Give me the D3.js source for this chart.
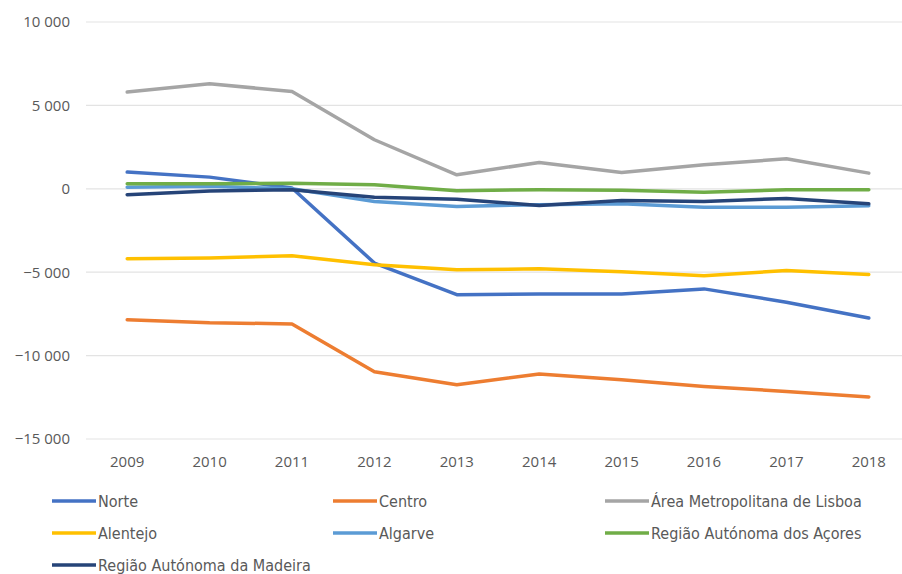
<!DOCTYPE html>
<html><head><meta charset="utf-8">
<script src="https://cdn.jsdelivr.net/npm/d3@7"></script>
<style>body{margin:0;background:#fff}svg{display:block}</style>
</head><body><svg id="c" width="902" height="574"></svg>
<script>
const years = ["2009","2010","2011","2012","2013","2014","2015","2016","2017","2018"];
const yTicks = [-15000,-10000,-5000,0,5000,10000];
const norte    = [1000, 700, 50, -4450, -6350, -6300, -6300, -6000, -6800, -7750];
const centro   = [-7850, -8030, -8100, -10970, -11750, -11100, -11450, -11850, -12150, -12480];
const lisboa   = [5800, 6300, 5830, 2940, 840, 1580, 980, 1440, 1800, 940];
const alentejo = [-4200, -4150, -4020, -4550, -4850, -4800, -4980, -5220, -4900, -5140];
const algarve  = [100, 150, 0, -760, -1060, -950, -900, -1100, -1100, -1020];
const acores   = [300, 300, 340, 250, -120, -50, -80, -200, -60, -60];
const madeira  = [-350, -130, -50, -500, -620, -1000, -700, -760, -580, -900];
const seriesNames = ["Norte","Centro","Área Metropolitana de Lisboa","Alentejo","Algarve","Região Autónoma dos Açores","Região Autónoma da Madeira"];
const seriesValues = [norte, centro, lisboa, alentejo, algarve, acores, madeira];
const colors = ["#4472C4","#ED7D31","#A5A5A5","#FFC000","#5B9BD5","#70AD47","#264478"];

const svg = d3.select("#c");
const x = d3.scaleBand().domain(years).range([86, 910]);
const y = d3.scaleLinear().domain([-15000, 10000]).range([439, 22]);
const fmt = v => d3.format(",")(v).replace(/,/g, " ");

// grid
svg.append("g").selectAll("line").data(yTicks).join("line")
  .attr("x1", 86).attr("x2", 910)
  .attr("y1", d => y(d)).attr("y2", d => y(d))
  .attr("stroke", "#e3e3e3").attr("stroke-width", 1.2);

// y axis
const ya = svg.append("g").attr("transform", "translate(70,0)")
  .call(d3.axisLeft(y).tickValues(yTicks).tickSize(0).tickPadding(0).tickFormat(fmt));
ya.select(".domain").remove();
ya.selectAll("text").attr("fill", "#595959").attr("font-family", "Open Sans, sans-serif").attr("font-size", 15);

// x axis
const xa = svg.append("g").attr("transform", "translate(0,452)")
  .call(d3.axisBottom(x).tickSize(0).tickPadding(4));
xa.select(".domain").remove();
xa.selectAll("text").attr("fill", "#595959").attr("font-family", "Open Sans, sans-serif").attr("font-size", 15);

const line = d3.line().x((d, i) => x(years[i]) + x.bandwidth() / 2).y(d => y(d));
svg.append("g").selectAll("path").data(seriesValues).join("path")
  .attr("d", d => line(d)).attr("fill", "none")
  .attr("stroke", (d, i) => colors[i]).attr("stroke-width", 3.5)
  .attr("stroke-linejoin", "round").attr("stroke-linecap", "round");

// legend
const colX = [52, 333, 605];
const rowY = [501, 533, 565];
const lg = svg.append("g").selectAll("g").data(seriesNames).join("g")
  .attr("transform", (d, i) => `translate(${colX[i % 3]},${rowY[Math.floor(i / 3)]})`);
lg.append("line").attr("x1", 0).attr("x2", 44).attr("y1", 0).attr("y2", 0)
  .attr("stroke", (d, i) => colors[i]).attr("stroke-width", 3.5);
lg.append("text").attr("x", 46).attr("y", 0).attr("dy", "0.35em")
  .attr("fill", "#595959").attr("font-family", "Liberation Sans Narrow, DejaVu Sans Condensed, sans-serif")
  .attr("font-size", 16).text(d => d);
</script></body></html>
